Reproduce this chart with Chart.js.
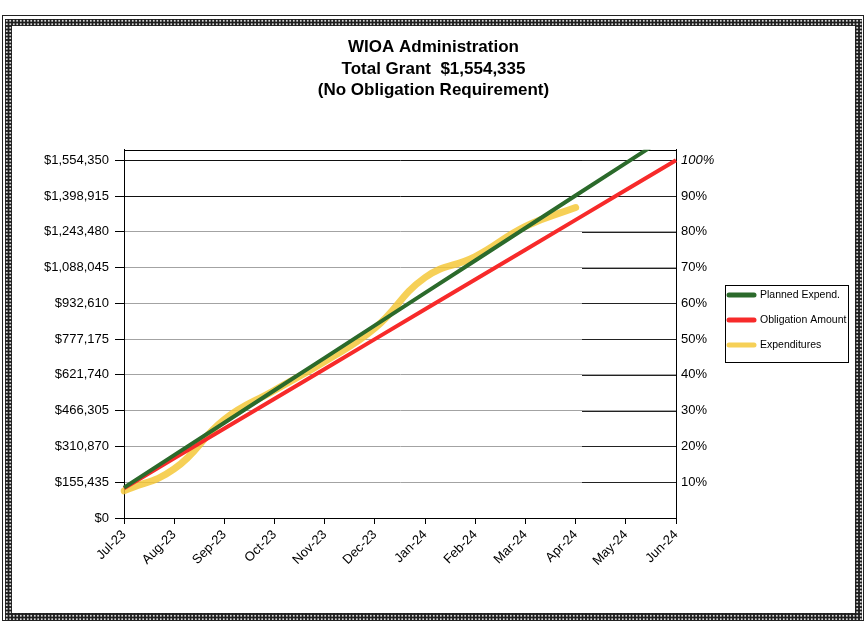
<!DOCTYPE html>
<html>
<head>
<meta charset="utf-8">
<script src="https://cdn.jsdelivr.net/npm/chart.js@4.4.0/dist/chart.umd.min.js"></script>
<style>
  html, body { margin:0; padding:0; background:#fff; }
  #wrap { position:relative; width:867px; height:621px; overflow:hidden; background:#fff; }
  .f1 { position:absolute; left:2px; top:15px; width:862px; height:606px; box-sizing:border-box; border:1px solid #222; }
  .f2 { position:absolute; left:5px; top:19px; width:857px; height:601px; background-color:#1e1e1e;
        background-image: radial-gradient(circle, #d8d8d8 0.9px, rgba(0,0,0,0) 1.3px);
        background-size:3.5px 3.5px; }
  .f3 { position:absolute; left:7px; top:7px; right:7px; bottom:7px; background:#fff; }
  canvas { position:absolute; left:0; top:0; }
</style>
</head>
<body>
<div id="wrap">
  <div class="f1"></div>
  <div class="f2"><div class="f3"></div></div>
  <canvas id="c" width="867" height="621"></canvas>
</div>
<script>
// ---- data ----
const months = ['Jul-23','Aug-23','Sep-23','Oct-23','Nov-23','Dec-23','Jan-24','Feb-24','Mar-24','Apr-24','May-24','Jun-24'];
const plannedExpend = [132000, 273000, 414000, 555000, 696000, 837000, 978000, 1119000, 1260000, 1401000, 1542000, 1683000];
const obligationAmount = [129528, 259056, 388584, 518112, 647640, 777168, 906696, 1036224, 1165752, 1295280, 1424808, 1554335];
const expenditures = [118000, 213000, 428000, 555000, 680000, 825000, 1045000, 1136000, 1267000, 1349000, null, null];
const yTickValues = [0, 155435, 310870, 466305, 621740, 777175, 932610, 1088045, 1243480, 1398915, 1554350];
const yTickLabels = ['$0','$155,435','$310,870','$466,305','$621,740','$777,175','$932,610','$1,088,045','$1,243,480','$1,398,915','$1,554,350'];
const pctTickValues = [10, 20, 30, 40, 50, 60, 70, 80, 90, 100];
const pctTickLabels = ['10%','20%','30%','40%','50%','60%','70%','80%','90%','100%'];
const titleLines = ['WIOA Administration', 'Total Grant  $1,554,335', '(No Obligation Requirement)'];
const seriesLabels = ['Planned Expend.', 'Obligation Amount', 'Expenditures'];
const totalGrant = 1554335;
const yMax = 1600000;

const FONT = "'Liberation Sans', Arial, Helvetica, sans-serif";

const extras = {
  id: 'extras',
  beforeDatasetsDraw(chart) {
    const {ctx, chartArea: a} = chart;
    const y2 = chart.scales.y2;
    ctx.save();
    // darker secondary-axis gridline segments on the right part of the plot
    ctx.strokeStyle = '#222';
    ctx.lineWidth = 1;
    pctTickValues.forEach(v => {
      const py = Math.round(y2.getPixelForValue(v)) + 0.5;
      ctx.beginPath();
      ctx.moveTo(582, py);
      ctx.lineTo(a.right, py);
      ctx.stroke();
    });
    ctx.strokeStyle = '#000';
    ctx.strokeRect(Math.round(a.left) + 0.5, Math.round(a.top) + 0.5, Math.round(a.right - a.left), Math.round(a.bottom - a.top));
    ctx.restore();
  },
  afterDraw(chart) {
    const ctx = chart.ctx;
    const bx = 725, by = 285, bw = 123, bh = 77;
    ctx.save();
    ctx.fillStyle = '#fff';
    ctx.fillRect(bx, by, bw, bh);
    ctx.strokeStyle = '#000';
    ctx.lineWidth = 1;
    ctx.strokeRect(bx + 0.5, by + 0.5, bw, bh);
    ctx.font = '10.5px ' + FONT;
    ctx.textBaseline = 'middle';
    ctx.textAlign = 'left';
    chart.data.datasets.forEach((ds, i) => {
      const y = by + 10 + i * 25;
      ctx.strokeStyle = ds.borderColor;
      ctx.lineWidth = 5;
      ctx.lineCap = 'round';
      ctx.beginPath();
      ctx.moveTo(729, y);
      ctx.lineTo(754, y);
      ctx.stroke();
      ctx.fillStyle = '#000';
      ctx.fillText(ds.label, 760, y);
    });
    ctx.restore();
  }
};

new Chart(document.getElementById('c'), {
  type: 'line',
  data: {
    labels: months,
    datasets: [
      { label: seriesLabels[0], data: plannedExpend, borderColor: '#2b6a2b', borderWidth: 4, pointRadius: 0, tension: 0, yAxisID: 'y' },
      { label: seriesLabels[1], data: obligationAmount, borderColor: '#f72a2a', borderWidth: 4, pointRadius: 0, tension: 0, yAxisID: 'y' },
      { label: seriesLabels[2], data: expenditures, borderColor: 'rgba(244,198,50,0.82)', borderWidth: 7, pointRadius: 0, tension: 0.45, borderCapStyle: 'round', yAxisID: 'y' }
    ]
  },
  options: {
    responsive: false,
    devicePixelRatio: 1,
    animation: false,
    layout: { padding: 0 },
    plugins: {
      legend: { display: false },
      tooltip: { enabled: false },
      title: {
        display: true,
        text: titleLines,
        color: '#000',
        font: { family: FONT, size: 17, weight: 'bold', lineHeight: 1.25 },
        padding: { top: 37, bottom: 49 }
      }
    },
    scales: {
      x: {
        type: 'category',
        offset: false,
        grid: { drawOnChartArea: false, drawTicks: true, tickLength: 6, tickColor: '#000' },
        border: { display: true, color: '#000', width: 1 },
        ticks: { autoSkip: false, minRotation: 45, maxRotation: 45, color: '#000', font: { family: FONT, size: 13 }, padding: 3 },
        afterFit(scale) { scale.height = 103; }
      },
      y: {
        type: 'linear',
        position: 'left',
        min: 0,
        max: yMax,
        afterBuildTicks(scale) { scale.ticks = yTickValues.map(v => ({ value: v })); },
        grid: {
          color: (c) => (c.tick && c.tick.value >= 1398915) ? '#111' : '#a3a3a3',
          lineWidth: 1,
          tickLength: 9,
          tickColor: '#000'
        },
        border: { display: true, color: '#000', width: 1 },
        ticks: { color: '#000', font: { family: FONT, size: 13 }, padding: 6, callback: (v, i) => yTickLabels[i] },
        afterFit(scale) { scale.width = 124; }
      },
      y2: {
        type: 'linear',
        position: 'right',
        min: 0,
        max: yMax / totalGrant * 100,
        afterBuildTicks(scale) { scale.ticks = pctTickValues.map(v => ({ value: v })); },
        grid: { display: false, drawTicks: false, drawOnChartArea: false },
        border: { display: true, color: '#000', width: 1 },
        ticks: {
          color: '#000',
          padding: 5,
          font: (c) => ({ family: FONT, size: 13, style: (c.tick && c.tick.value === 100) ? 'italic' : 'normal' }),
          callback: (v, i) => pctTickLabels[i]
        },
        afterFit(scale) { scale.width = 191; }
      }
    }
  },
  plugins: [extras]
});
</script>
</body>
</html>
